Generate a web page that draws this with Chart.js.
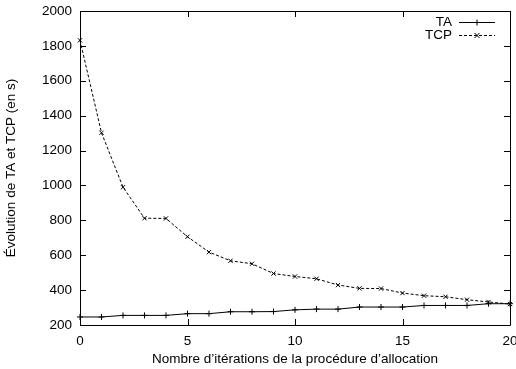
<!DOCTYPE html>
<html>
<head>
<meta charset="utf-8">
<script src="https://cdn.jsdelivr.net/npm/chart.js@4/dist/chart.umd.min.js"></script>
<style>
  html, body { margin: 0; padding: 0; background: #fff; }
  #wrap { width: 516px; height: 369px; }
</style>
</head>
<body>
<div id="wrap"><canvas id="courbes"></canvas></div>
<script>
// iterations de la procedure d'allocation
var iterations = [0,1,2,3,4,5,6,7,8,9,10,11,12,13,14,15,16,17,18,19,20];
var ta  = [246,246,255,255,255,265,265,276,276,277,287,291,291,303,303,303,312,312,312,322,322];
var tcp = [1832,1302,990,812,811,706,618,568,551,495,478,465,429,410,409,383,368,362,345,332,320];
var xTicks = [0,5,10,15,20];
var yTicks = [200,400,600,800,1000,1200,1400,1600,1800,2000];

var police = "'Liberation Sans', Arial, sans-serif";

function pts(vals) {
  var out = [];
  for (var i in iterations) out.push({x: iterations[i], y: vals[i]});
  return out;
}

// cadre + graduations vers l'interieur, facon gnuplot
var cadre = {
  id: 'cadre',
  afterDatasetsDraw: function(chart) {
    var c = chart.ctx, a = chart.chartArea;
    var sx = chart.scales.x, sy = chart.scales.y;
    c.save();
    c.strokeStyle = '#000';
    c.lineWidth = 1;
    c.beginPath();
    c.rect(Math.round(a.left) + 0.5, Math.round(a.top) + 0.5,
           Math.round(a.right - a.left), Math.round(a.bottom - a.top));
    c.stroke();
    c.beginPath();
    xTicks.forEach(function(v) {
      var px = Math.round(sx.getPixelForValue(v)) + 0.5;
      c.moveTo(px, a.bottom); c.lineTo(px, a.bottom - 6);
      c.moveTo(px, a.top); c.lineTo(px, a.top + 6);
    });
    yTicks.forEach(function(v) {
      var py = Math.round(sy.getPixelForValue(v)) + 0.5;
      c.moveTo(a.left, py); c.lineTo(a.left + 6, py);
      c.moveTo(a.right, py); c.lineTo(a.right - 6, py);
    });
    c.stroke();

    // legende
    c.font = '13.5px ' + police;
    c.fillStyle = '#000';
    c.textAlign = 'right';
    c.textBaseline = 'middle';
    chart.data.datasets.forEach(function(ds, i) {
      var y = 22.5 + i * 13;
      c.fillText(ds.label, 452, y);
      c.beginPath();
      c.setLineDash(ds.borderDash || []);
      c.moveTo(459, y); c.lineTo(495, y);
      c.stroke();
      c.setLineDash([]);
      c.beginPath();
      if (ds.pointStyle === 'cross') {
        c.moveTo(477, y - 3); c.lineTo(477, y + 3);
        c.moveTo(474, y); c.lineTo(480, y);
      } else {
        c.moveTo(474.5, y - 2.5); c.lineTo(479.5, y + 2.5);
        c.moveTo(474.5, y + 2.5); c.lineTo(479.5, y - 2.5);
      }
      c.stroke();
    });
    c.restore();
  }
};

new Chart(document.getElementById('courbes'), {
  type: 'line',
  data: {
    datasets: [
      {
        label: 'TA',
        data: pts(ta),
        borderColor: '#000',
        backgroundColor: '#000',
        borderWidth: 1,
        pointStyle: 'cross',
        pointRadius: 3,
        pointBorderWidth: 1,
        tension: 0
      },
      {
        label: 'TCP',
        data: pts(tcp),
        borderColor: '#000',
        backgroundColor: '#000',
        borderWidth: 1,
        borderDash: [3, 2],
        pointStyle: 'crossRot',
        pointRadius: 3,
        pointBorderWidth: 1,
        tension: 0
      }
    ]
  },
  options: {
    responsive: true,
    maintainAspectRatio: false,
    animation: false,
    clip: false,
    layout: { padding: { top: 11, right: 6, left: 0, bottom: 0 } },
    plugins: { legend: { display: false }, tooltip: { enabled: false } },
    scales: {
      x: {
        type: 'linear',
        min: 0, max: 20,
        grid: { display: false, drawTicks: false, tickLength: 0 },
        border: { display: false },
        afterBuildTicks: function(s) { s.ticks = xTicks.map(function(v) { return {value: v}; }); },
        afterFit: function(s) { s.height = 44; s.paddingLeft = 0; s.paddingRight = 0; },
        ticks: { color: '#000', font: { family: police, size: 13.5 }, padding: 8, maxRotation: 0,
                 callback: function(v) { return String(v); } },
        title: { display: true, text: "Nombre d’itérations de la procédure d’allocation",
                 color: '#000', font: { family: police, size: 13.5 }, padding: { top: 0, bottom: 2 } }
      },
      y: {
        min: 200, max: 2000,
        grid: { display: false, drawTicks: false, tickLength: 0 },
        border: { display: false },
        afterBuildTicks: function(s) { s.ticks = yTicks.map(function(v) { return {value: v}; }); },
        afterFit: function(s) { s.width = 80; s.paddingTop = 0; s.paddingBottom = 0; },
        ticks: { color: '#000', font: { family: police, size: 13.5 }, padding: 8,
                 callback: function(v) { return String(v); } },
        title: { display: true, text: 'Évolution de TA et TCP (en s)',
                 color: '#000', font: { family: police, size: 13.5 }, padding: { top: 3, bottom: 0 } }
      }
    }
  },
  plugins: [cadre]
});
</script>
</body>
</html>
